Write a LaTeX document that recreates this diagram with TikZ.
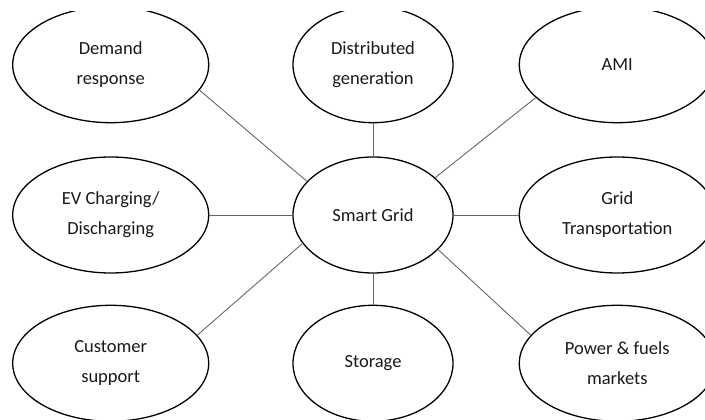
\documentclass[tikz,border=0pt]{standalone}
\usepackage{fontspec}
\setmainfont{Carlito}
\usepackage{xcolor}
\usepackage{tikz}
\usetikzlibrary{shapes.geometric,positioning}

\begin{document}
\begin{tikzpicture}[
      x=1pt, y=1pt,
      myellipse/.style={
         ellipse,
         draw=black,
         line width=1.3pt,
         inner sep=0pt,
         align=center,
         text=black!90,
         minimum height=116pt,
         font=\fontsize{18.5}{30}\selectfont},
      sidebox/.style={myellipse, minimum width=196pt},
      midbox/.style={myellipse, minimum width=160pt},
      myline/.style={draw=black!60, line width=0.9pt},
      node distance=33pt and 65pt
      ]
\useasboundingbox (0,0) rectangle (705,420);
\clip (0,0) rectangle (705,408);

\node[midbox] (sg) at (373,205) {Smart Grid};

\node[midbox,above=of sg            ] (dg) {Distributed\\generation};
\node[midbox,below=31pt of sg       ] (st) {Storage};
\node[sidebox,left=83pt of sg       ] (ev) {EV Charging/\\Discharging};
\node[sidebox,right=of sg           ] (gt) {Grid\\Transportation};

\node[sidebox,above=of ev           ] (dr) {Demand\\response};
\node[sidebox,below=31pt of ev      ] (cs) {Customer\\support};
\node[sidebox,above=of gt           ] (am) {AMI};
\node[sidebox,below=31pt of gt      ] (pf) {Power \& fuels\\markets};

\foreach \i/\j in {% outer node/centre node
      dr.-16/sg.153, dg.south/sg.north, am.202/sg.31,
      ev.east/sg.west, gt.west/sg.east,
      cs.18/sg.202, st.north/sg.south, pf.162/sg.-28}
       \draw[myline] (\i) -- (\j);

\end{tikzpicture}
\end{document}
